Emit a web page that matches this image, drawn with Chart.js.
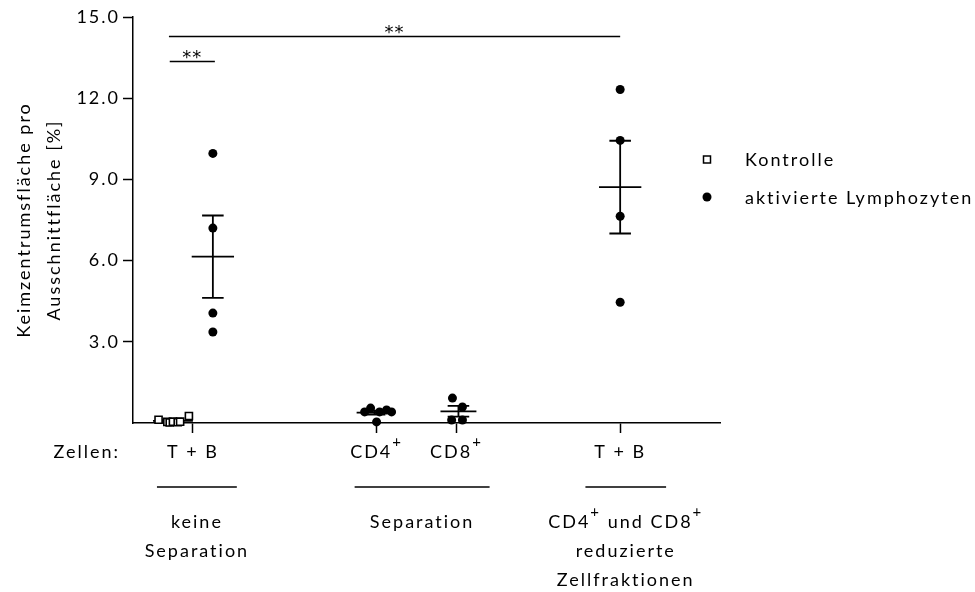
<!DOCTYPE html>
<html lang="de">
<head>
  <meta charset="UTF-8">
  <title>Keimzentrumsfläche</title>
  <script src="https://cdn.jsdelivr.net/npm/chart.js@4.4.1/dist/chart.umd.min.js"></script>
  <style>
    html, body { margin: 0; padding: 0; background: #fff; }
    canvas { display: block; }
  </style>
</head>
<body>
  <canvas id="chart" width="975" height="592"></canvas>

  <script>
    // Achse y: Keimzentrumsfläche in %
    const yTicks = [3, 6, 9, 12, 15];

    // Achse x: Zelltypen (Lage der Spalten auf der x-Achse)
    const xTickPos = [1.5, 6.1, 8.1, 12.2];
    const xTickText = ['T + B', 'CD4^+', 'CD8^+', 'T + B'];

    // Kontrolle (nur T + B, ohne Separation)
    const kontrolleX = [0.64, 0.86, 0.92, 1.0, 1.12, 1.18, 1.4];
    const kontrolleY = [0.12, 0.04, 0.02, 0.05, 0.03, 0.05, 0.26];

    // aktivierte Lymphozyten, je Spalte
    const tbX = [2.0, 2.0, 2.0, 2.0];
    const tbY = [9.96, 7.20, 4.06, 3.36];
    const cd4X = [5.95, 6.35, 5.8, 6.175, 6.475, 6.1];
    const cd4Y = [0.55, 0.48, 0.41, 0.41, 0.41, 0.04];
    const cd8X = [8.0, 8.25, 7.98, 8.25];
    const cd8Y = [0.92, 0.59, 0.11, 0.11];
    const redX = [12.2, 12.2, 12.2, 12.2];
    const redY = [12.32, 10.44, 7.64, 4.46];

    // Mittelwert-Linien: Mitte und halbe Breite der Spalte
    const meanCenter = [1.0, 2.0, 6.05, 8.15, 12.2];
    const meanHalf = [0.5, 0.53, 0.45, 0.45, 0.53];

    // Signifikanz-Balken
    const sigFrom = [0.92, 0.9];
    const sigTo = [2.05, 12.2];
    const sigLevel = [13.36, 14.28];
    const sigText = ['**', '**'];

    // Gruppen unter der x-Achse
    const groupFrom = [0.6, 5.55, 11.33];
    const groupTo = [2.6, 8.93, 13.35];
    const groupText = [
      ['keine', 'Separation'],
      ['Separation'],
      ['CD4^+ und CD8^+', 'reduzierte', 'Zellfraktionen']
    ];

    const FONT = 'Lato';
    const SIZE = 18;
    const SPACING = '2px';

    function toPoints(xs, ys) {
      return xs.map(function(x, i){ return { x: x, y: ys[i] }; });
    }

    function meanSem(vals) {
      var n = vals.length;
      var m = vals.reduce(function(a, b){ return a + b; }, 0) / n;
      var ss = vals.reduce(function(a, v){ return a + (v - m) * (v - m); }, 0);
      return [m, Math.sqrt(ss / (n - 1)) / Math.sqrt(n)];
    }

    // Mittelwert +/- SEM als Liniensegmente, getrennt durch Lücken
    function summaryLines(groups) {
      var out = [];
      groups.forEach(function(vals, i){
        var c = meanCenter[i], hw = meanHalf[i], cap = 0.27;
        var ms = meanSem(vals), m = ms[0], s = ms[1];
        out.push({ x: c - hw, y: m }, { x: c + hw, y: m }, { x: c, y: null });
        out.push({ x: c, y: m - s }, { x: c, y: m + s }, { x: c, y: null });
        out.push({ x: c - cap, y: m + s }, { x: c + cap, y: m + s }, { x: c, y: null });
        out.push({ x: c - cap, y: m - s }, { x: c + cap, y: m - s }, { x: c, y: null });
      });
      return out;
    }

    function sigLines() {
      var out = [];
      sigFrom.forEach(function(f, i){
        out.push({ x: f, y: sigLevel[i] }, { x: sigTo[i], y: sigLevel[i] }, { x: f, y: null });
      });
      return out;
    }

    // Text mit hochgestelltem Zeichen nach '^'
    function richParts(str) {
      var parts = [], buf = '';
      for (var i = 0; i < str.length; i++) {
        if (str[i] === '^') {
          if (buf) parts.push({ t: buf, sup: false });
          buf = '';
          parts.push({ t: str[i + 1], sup: true });
          i++;
        } else buf += str[i];
      }
      if (buf) parts.push({ t: buf, sup: false });
      return parts;
    }

    function drawRich(ctx, str, cx, y) {
      var parts = richParts(str), total = 0;
      parts.forEach(function(p){
        ctx.font = (p.sup ? 15 : SIZE) + 'px ' + FONT;
        p.w = ctx.measureText(p.t).width;
        total += p.w;
      });
      var x = cx - total / 2;
      ctx.textAlign = 'left';
      parts.forEach(function(p){
        ctx.font = (p.sup ? 15 : SIZE) + 'px ' + FONT;
        ctx.fillText(p.t, x, p.sup ? y - 10 : y);
        x += p.w;
      });
    }

    var letterSpacing = {
      id: 'letterSpacing',
      beforeDraw: function(chart){
        var ctx = chart.ctx;
        ctx.save();
        ctx.fillStyle = '#fff';
        ctx.fillRect(0, 0, chart.width, chart.height);
        ctx.restore();
        ctx.letterSpacing = SPACING;
      }
    };

    var annotations = {
      id: 'annotations',
      afterDraw: function(chart){
        var ctx = chart.ctx, xs = chart.scales.x, area = chart.chartArea;
        var base = area.bottom;
        ctx.save();
        ctx.letterSpacing = SPACING;
        ctx.fillStyle = '#000';
        ctx.strokeStyle = '#000';
        ctx.textBaseline = 'middle';

        // Zelltypen unter den Ticks
        ctx.font = SIZE + 'px ' + FONT;
        ctx.textAlign = 'right';
        ctx.fillText('Zellen:', area.left - 13, base + 29);
        xTickPos.forEach(function(v, i){
          drawRich(ctx, xTickText[i], xs.getPixelForValue(v), base + 29);
        });

        // Gruppenlinien und -beschriftung
        ctx.lineWidth = 1.5;
        groupFrom.forEach(function(f, i){
          var x0 = xs.getPixelForValue(f), x1 = xs.getPixelForValue(groupTo[i]);
          ctx.beginPath();
          ctx.moveTo(x0, base + 64);
          ctx.lineTo(x1, base + 64);
          ctx.stroke();
          var cx = (x0 + x1) / 2;
          groupText[i].forEach(function(line, j){
            drawRich(ctx, line, cx, base + 99 + j * 29);
          });
        });

        // Sternchen über den Signifikanz-Balken
        ctx.textBaseline = 'alphabetic';
        ctx.font = '18px "DejaVu Sans"';
        ctx.letterSpacing = '1px';
        ctx.textAlign = 'center';
        sigText.forEach(function(t, i){
          var cx = (xs.getPixelForValue(sigFrom[i]) + xs.getPixelForValue(sigTo[i])) / 2;
          ctx.fillText(t, cx, chart.scales.y.getPixelForValue(sigLevel[i]) + 2);
        });

        // Legende
        var lx = area.right - 13, tx = area.right + 25;
        ctx.letterSpacing = SPACING;
        ctx.font = SIZE + 'px ' + FONT;
        ctx.textBaseline = 'middle';
        ctx.textAlign = 'left';
        ctx.lineWidth = 1.5;
        ctx.fillStyle = '#fff';
        ctx.fillRect(lx - 3.5, 156, 7, 7);
        ctx.strokeRect(lx - 3.5, 156, 7, 7);
        ctx.fillStyle = '#000';
        ctx.beginPath();
        ctx.arc(lx, 197, 4.5, 0, Math.PI * 2);
        ctx.fill();
        ctx.fillText('Kontrolle', tx, 160);
        ctx.fillText('aktivierte Lymphozyten', tx, 198);
        ctx.restore();
      }
    };

    Chart.defaults.font.family = FONT;
    Chart.defaults.font.size = SIZE;
    Chart.defaults.color = '#000';

    new Chart(document.getElementById('chart'), {
      type: 'scatter',
      data: {
        datasets: [
          {
            label: 'aktivierte Lymphozyten',
            data: toPoints(tbX, tbY).concat(toPoints(cd4X, cd4Y), toPoints(cd8X, cd8Y), toPoints(redX, redY)),
            pointStyle: 'circle',
            pointRadius: 4.5,
            backgroundColor: '#000',
            borderColor: '#000',
            borderWidth: 0,
            clip: false
          },
          {
            label: 'Kontrolle',
            data: toPoints(kontrolleX, kontrolleY),
            pointStyle: 'rect',
            pointRadius: 5,
            backgroundColor: '#fff',
            borderColor: '#000',
            borderWidth: 1.6,
            clip: false
          },
          {
            type: 'line',
            label: 'Mittelwert ± SEM',
            data: summaryLines([kontrolleY, tbY, cd4Y, cd8Y, redY]),
            borderColor: '#000',
            borderWidth: 1.8,
            pointRadius: 0,
            spanGaps: false,
            clip: false
          },
          {
            type: 'line',
            label: 'Signifikanz',
            data: sigLines(),
            borderColor: '#000',
            borderWidth: 1.5,
            pointRadius: 0,
            spanGaps: false,
            clip: false
          }
        ]
      },
      options: {
        responsive: false,
        devicePixelRatio: 1,
        animation: false,
        layout: { padding: { top: 17, left: 0, right: 255, bottom: 149 } },
        plugins: { legend: { display: false }, tooltip: { enabled: false } },
        scales: {
          x: {
            type: 'linear',
            min: 0,
            max: 14.7,
            afterBuildTicks: function(scale){
              scale.ticks = xTickPos.map(function(v){ return { value: v }; });
            },
            afterFit: function(scale){ scale.height = 20; },
            ticks: { callback: function(){ return ''; } },
            grid: { drawOnChartArea: false, drawTicks: true, tickLength: 10, color: '#000', tickWidth: 1.5 },
            border: { display: true, color: '#000', width: 1.5 }
          },
          y: {
            type: 'linear',
            min: 0,
            max: 15,
            afterBuildTicks: function(scale){
              scale.ticks = yTicks.map(function(v){ return { value: v }; });
            },
            afterFit: function(scale){ scale.width = 133; },
            ticks: {
              padding: 3,
              callback: function(v){ return Number(v).toFixed(1); }
            },
            grid: { drawOnChartArea: false, drawTicks: true, tickLength: 10, color: '#000', tickWidth: 1.5 },
            border: { display: true, color: '#000', width: 1.5 },
            title: {
              display: true,
              text: ['Keimzentrumsfläche pro', 'Ausschnittfläche [%]'],
              font: { size: SIZE, lineHeight: 1.66 },
              padding: { top: 9, bottom: 0 }
            }
          }
        }
      },
      plugins: [letterSpacing, annotations]
    });
  </script>
</body>
</html>
